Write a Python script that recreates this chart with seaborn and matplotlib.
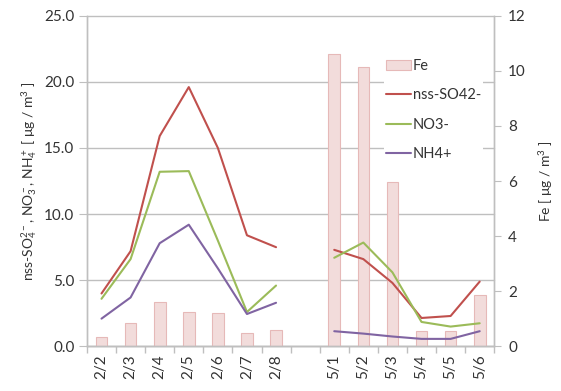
import numpy as np
import pandas as pd
import matplotlib
matplotlib.use("Agg")
import matplotlib.pyplot as plt
import seaborn as sns

# sampling days, empty slot separates the two campaigns
days = ["2/2", "2/3", "2/4", "2/5", "2/6", "2/7", "2/8", "",
        "5/1", "5/2", "5/3", "5/4", "5/5", "5/6"]
nan = np.nan
fe = [0.35, 0.85, 1.6, 1.25, 1.2, 0.5, 0.6, nan,
      10.6, 10.15, 5.95, 0.57, 0.57, 1.85]
so4 = [4.0, 7.2, 15.9, 19.6, 15.0, 8.4, 7.5, nan,
       7.3, 6.6, 4.8, 2.15, 2.3, 4.9]
no3 = [3.6, 6.6, 13.2, 13.25, 8.0, 2.6, 4.6, nan,
       6.7, 7.85, 5.6, 1.85, 1.5, 1.75]
nh4 = [2.1, 3.7, 7.8, 9.2, 5.9, 2.45, 3.3, nan,
       1.15, 0.97, 0.75, 0.57, 0.57, 1.15]
left_ticks = [0, 5, 10, 15, 20, 25]
right_ticks = [0, 2, 4, 6, 8, 10, 12]

colors = {"nss-SO42-": "#c0504d", "NO3-": "#9bbb59", "NH4+": "#8064a2"}
bar_face = "#f2dcdb"
bar_edge = "#e6b9b8"
grid_c = "#bfbfbf"
txt = "#333333"

x = np.arange(len(days))
seg = np.cumsum(np.isnan(fe))  # breaks the lines at the gap
frames = []
for name, vals in [("nss-SO42-", so4), ("NO3-", no3), ("NH4+", nh4)]:
    frames.append(pd.DataFrame({"x": x, "value": vals, "ion": name, "seg": seg}))
ions = pd.concat(frames).dropna()
bars = pd.DataFrame({"x": x, "fe": fe}).dropna()

sns.set_style("white")
plt.rcParams["font.family"] = ["Lato", "DejaVu Sans"]
plt.rcParams["mathtext.fontset"] = "custom"
plt.rcParams["mathtext.rm"] = "Lato"
plt.rcParams["mathtext.it"] = "Lato:italic"
plt.rcParams["mathtext.default"] = "regular"

fig = plt.figure(figsize=(5.61, 3.91), dpi=100)
ax2 = fig.add_axes([0.155, 0.114, 0.726, 0.846])
ax1 = ax2.twinx()
# left axis (lines) sits on top of the Fe bars
ax1.set_zorder(ax2.get_zorder() + 1)
ax1.patch.set_visible(False)
ax1.yaxis.tick_left()
ax1.yaxis.set_label_position("left")
ax2.yaxis.tick_right()
ax2.yaxis.set_label_position("right")

# gridlines of the left scale, drawn under the bars
for t in left_ticks:
    ax2.axhline(t * 12 / 25, color=grid_c, lw=1, zorder=0, clip_on=False)

sns.barplot(data=bars, x="x", y="fe", native_scale=True, width=0.4,
            color=bar_face, edgecolor=bar_edge, linewidth=0.8,
            saturation=1, ax=ax2, zorder=2, label="Fe")
if ax2.get_legend() is not None:
    ax2.get_legend().remove()

sns.lineplot(data=ions, x="x", y="value", hue="ion", units="seg",
             estimator=None, palette=colors, lw=1.5, ax=ax1, legend=False)

ax1.set_ylim(0, 25)
ax2.set_ylim(0, 12)
ax2.set_xlim(-0.5, len(days) - 0.5)

ax1.set_yticks(left_ticks)
ax1.set_yticklabels([f"{t:.1f}" for t in left_ticks])
ax2.set_yticks(right_ticks)

ax2.set_xticks(x)
ax2.set_xticklabels(days, rotation=90)
ax2.set_xticks(np.arange(-0.5, len(days)), minor=True)

ax2.tick_params(axis="x", which="major", bottom=True, length=0,
                labelsize=11, labelcolor=txt, pad=6)
ax2.tick_params(axis="x", which="minor", bottom=True, length=5,
                color=grid_c, width=1)
ax1.tick_params(axis="y", length=6, color=grid_c, labelsize=11,
                labelcolor=txt, pad=3)
ax2.tick_params(axis="y", length=5, color=grid_c, labelsize=11,
                labelcolor=txt, pad=5)

for a in (ax1, ax2):
    for s in a.spines.values():
        s.set_color(grid_c)
        s.set_linewidth(1)
    a.spines["top"].set_visible(False)
    a.set_xlabel("")

ax1.set_ylabel(r"nss-SO$_4^{2-}$, NO$_3^-$, NH$_4^+$ [ μg / m$^3$ ]",
               fontsize=10, color=txt, labelpad=4)
ax2.set_ylabel(r"Fe [ μg / m$^3$ ]", fontsize=10, color=txt, labelpad=8)

h_bar = [c for c in ax2.patches][:1]
line_handles = [plt.Line2D([], [], color=c, lw=1.5) for c in colors.values()]
leg = ax1.legend(h_bar + line_handles, ["Fe"] + list(colors.keys()),
                 loc="upper left", bbox_to_anchor=(0.73, 0.875),
                 frameon=True, fancybox=False, facecolor="white",
                 edgecolor="none", framealpha=1, fontsize=10.5,
                 handlelength=1.7, handletextpad=0.1, labelspacing=1.05,
                 borderpad=0.15, borderaxespad=0)
for t in leg.get_texts():
    t.set_color(txt)

fig.savefig("out.png", dpi=100)
